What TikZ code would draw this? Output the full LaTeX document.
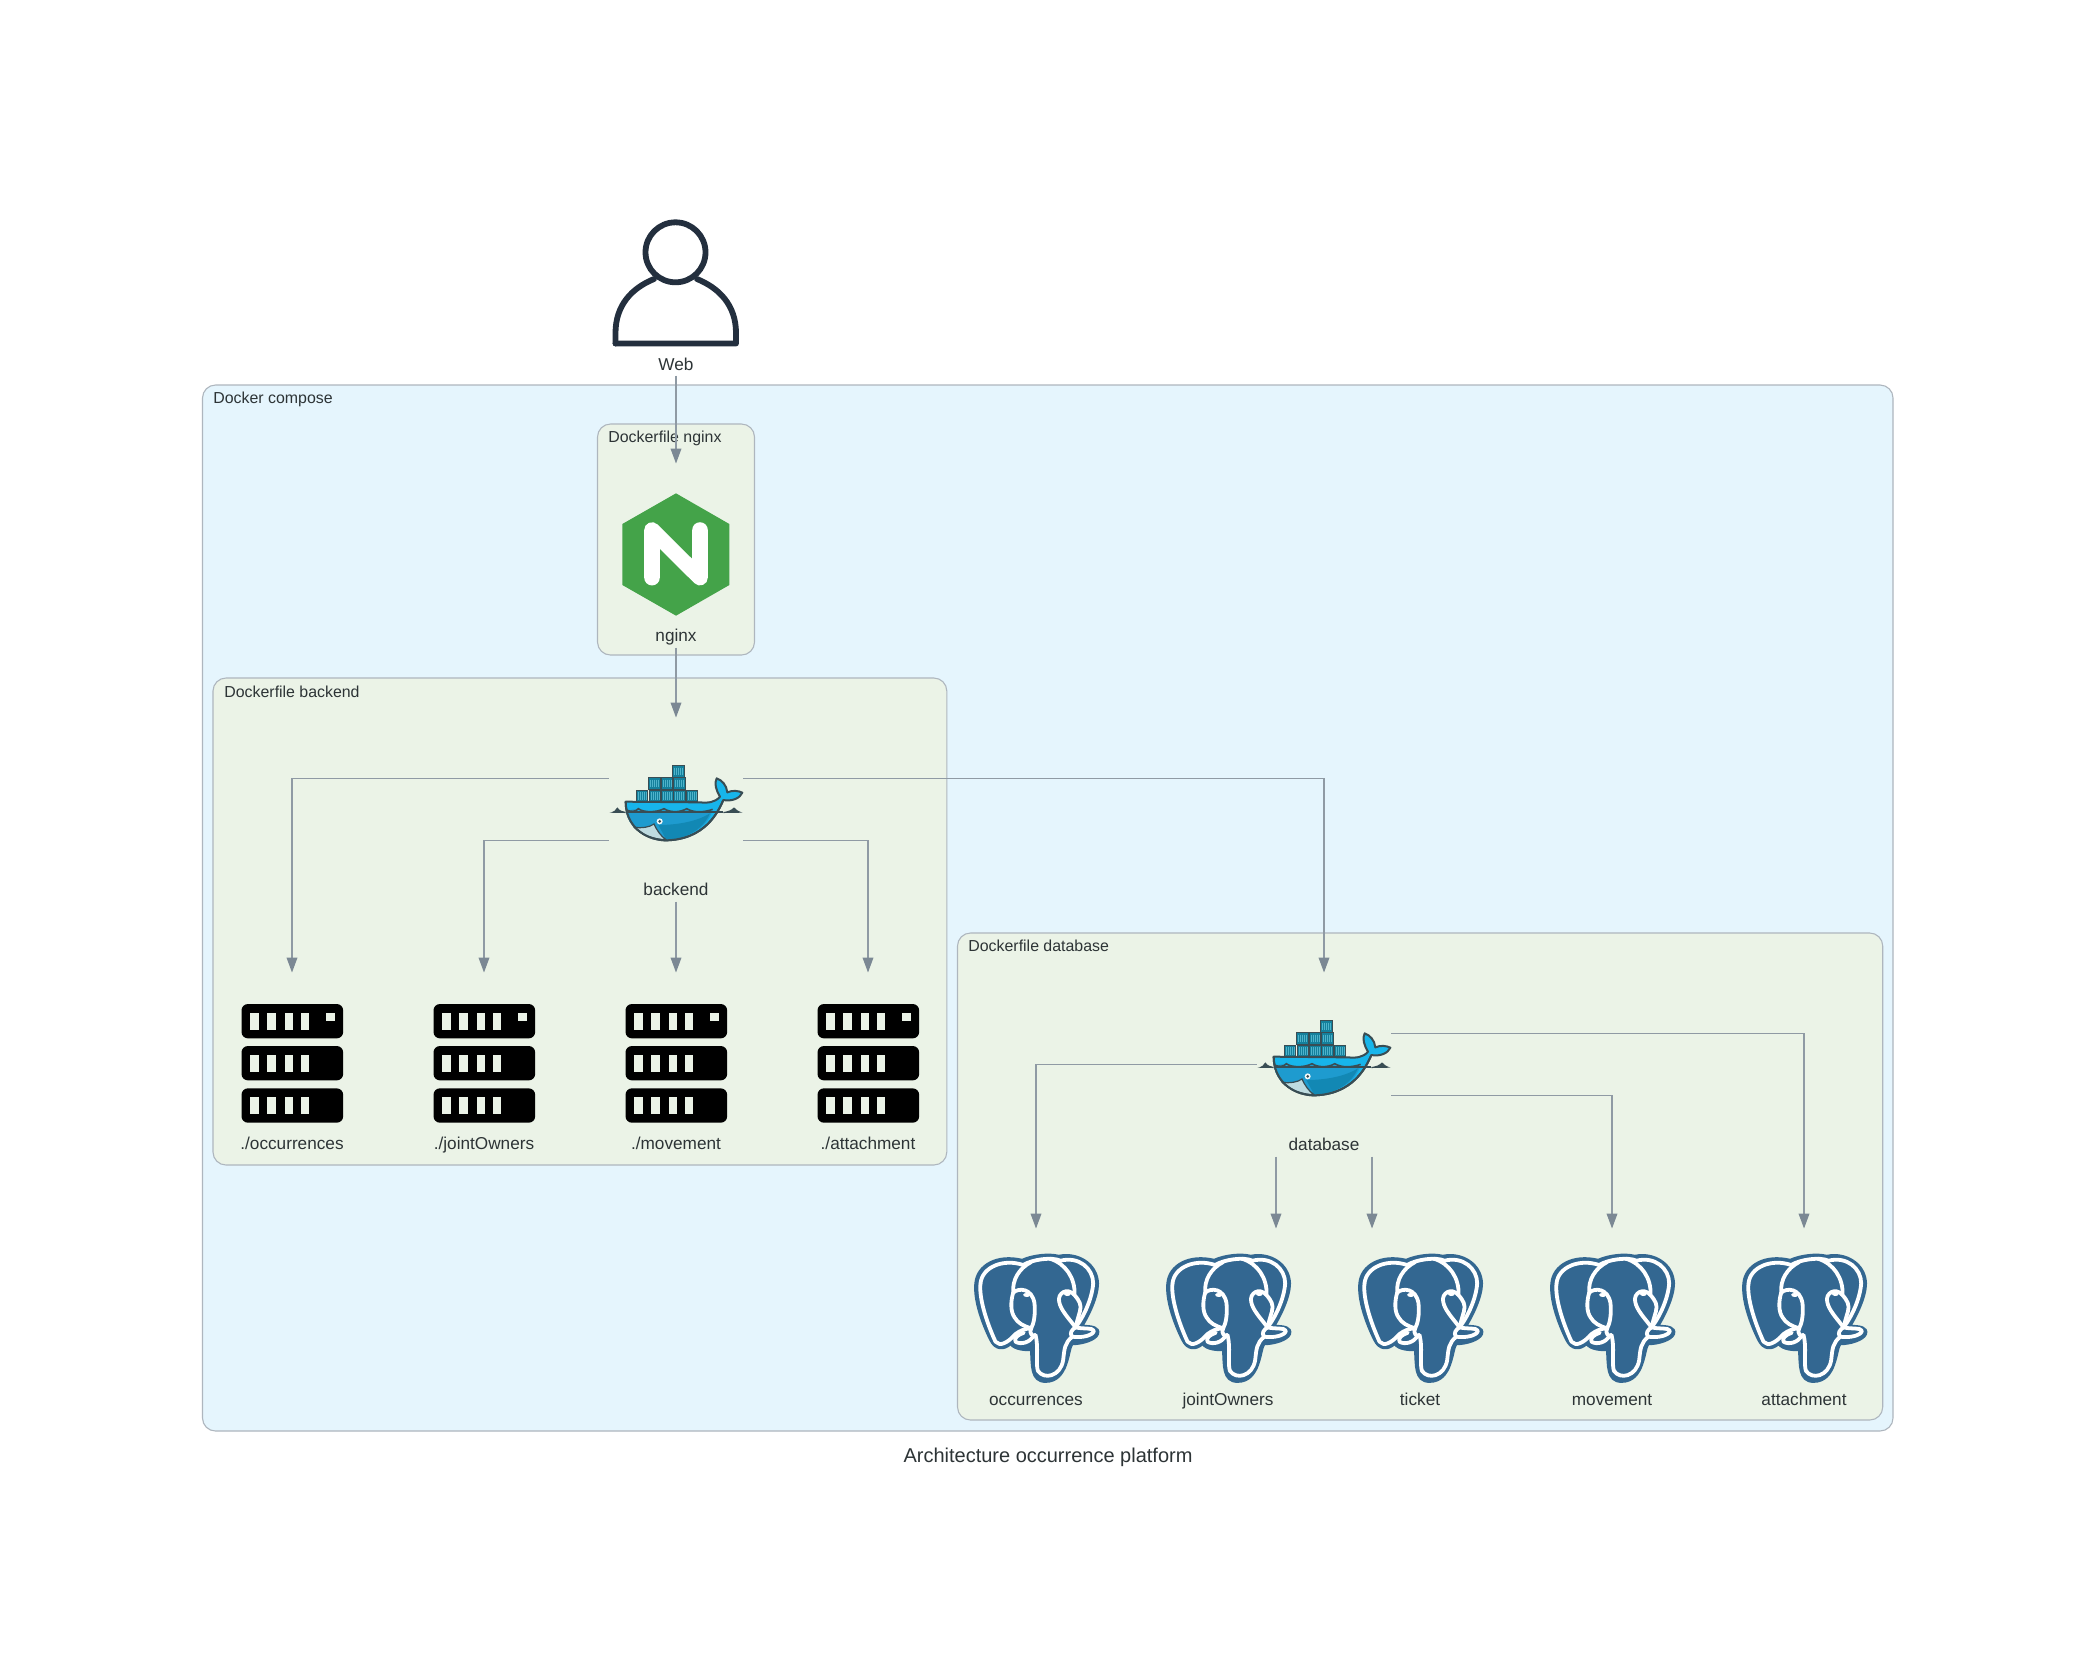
\documentclass[tikz,border=0pt]{standalone}
\usepackage{fontspec}
\setmainfont{Liberation Sans}
\usetikzlibrary{arrows.meta,calc}
\definecolor{txt}{HTML}{2D3436}
\definecolor{cpose}{HTML}{E5F5FD}
\definecolor{cfile}{HTML}{EBF3E7}
\definecolor{cedge}{HTML}{AEB6BE}
\definecolor{conn}{HTML}{7B8894}
\definecolor{awsdark}{HTML}{232F3E}
\definecolor{ngx}{HTML}{44A349}
\definecolor{pgb}{HTML}{336791}
\definecolor{wdark}{HTML}{394D54}
\definecolor{wteal}{HTML}{14809C}
\definecolor{wrib}{HTML}{4FB3CB}
\definecolor{wlight}{HTML}{17B5EB}
\definecolor{wmid}{HTML}{1E9BCF}
\definecolor{wdeep}{HTML}{1288B4}
\definecolor{wbelly}{HTML}{BFDBE0}
\newcommand{\crate}[3][37]{%
  \fill[wdark] (#2,#3) rectangle ++(#1,37);
  \fill[wteal] (#2+3,#3+3) rectangle ++(#1-6,31);
  \foreach \r in {0.2,0.36,0.52,0.68,0.84}
    \draw[wrib,line width=0.5pt] ($(#2,#3+7)+(\r*#1,0)$) -- ++(0,23);
}
\tikzset{
  compose/.style={draw=cedge,fill=cpose,line width=0.55pt,rounded corners=6.5pt},
  dfile/.style={draw=cedge,fill=cfile,line width=0.55pt,rounded corners=6.5pt},
  cluster/.style={anchor=base west,inner sep=0,text=txt,font=\fontsize{7.95pt}{9pt}\selectfont},
  lbl/.style={anchor=base,inner sep=0,text=txt,font=\fontsize{8.6pt}{10pt}\selectfont},
  ghost/.style={rectangle,inner sep=0,outer sep=0,minimum width=67.25pt,minimum height=92pt},
  wire/.style={draw=conn!85!white,line width=0.55pt,-{Triangle[length=7.5pt,width=5.4pt,color=conn]}},
  personicon/.pic={
    \draw[awsdark,line width=2.9pt,line join=round,line cap=round]
      (615.5-675.5,343.5-283) -- (615.5-675.5,333-283)
      .. controls (615.5-675.5,305-283) and (632-675.5,288-283) .. (654-675.5,279-283);
    \draw[awsdark,line width=2.9pt,line join=round,line cap=round]
      (615.5-675.5,343.5-283) -- (736-675.5,343.5-283) -- (736-675.5,333-283)
      .. controls (736-675.5,305-283) and (719-675.5,288-283) .. (697-675.5,279-283);
    \draw[awsdark,line width=2.9pt] (0,252.3-283) circle (30);
  },
  nginxicon/.pic={
    \fill[ngx] (258,70) -- (418,162) -- (418,345) -- (258,437) -- (97,345) -- (97,162) -- cycle;
    \draw[white,line width=7.8pt,line cap=round,line join=round]
      (186,323) -- (186,180) -- (330,323) -- (330,180);
  },
  servericon/.pic={
    \foreach \y in {42,168,295}{
      \fill[black,rounded corners=3.2pt] (33,\y) rectangle (338,\y+103);
      \foreach \a/\b in {58/85,110/136,162/188,212/236}
        \fill[cfile] (\a,\y+26) rectangle (\b,\y+78);
    }
    \fill[cfile] (287,70) rectangle (313,93);
  },
  whaleicon/.pic={
    % containers
    \crate{247}{46}
    \crate{175}{82}\crate{213}{82}\crate{250}{82}
    \crate{138}{119}\crate{177}{119}\crate{214}{119}\crate{250}{119}\crate{287}{119}
    % water line and small waves
    \fill[wdark] (58,188) .. controls (72,186) and (78,180) .. (82,172)
       .. controls (88,182) and (98,184) .. (107,186) -- (107,189) -- cycle;
    \fill[wdark] (400,186) .. controls (415,184) and (425,180) .. (432,172)
       .. controls (438,180) and (446,184) .. (458,188) -- (400,189) -- cycle;
    % body silhouette
    \path[fill=wlight,draw=wdark,line width=1pt,line join=round]
      (107,155) -- (330,157)
      .. controls (350,160) and (375,158) .. (390,140)
      .. controls (378,120) and (372,100) .. (380,85)
      .. controls (395,90) and (410,105) .. (412,127)
      .. controls (428,120) and (445,122) .. (457,128)
      .. controls (450,145) and (425,155) .. (400,150)
      .. controls (385,185) and (345,270) .. (225,271)
      .. controls (160,268) and (107,225) .. (107,155) -- cycle;
    % lower hull
    \fill[wmid] (109,186) .. controls (125,176) and (135,176) .. (145,182)
      .. controls (165,190) and (200,190) .. (222,180)
      .. controls (240,188) and (270,190) .. (290,180)
      .. controls (310,188) and (340,190) .. (368,182)
      .. controls (345,245) and (280,268) .. (225,269)
      .. controls (160,266) and (112,225) .. (109,186) -- cycle;
    \fill[wdeep] (205,225) .. controls (260,225) and (320,215) .. (360,190)
      .. controls (335,245) and (280,268) .. (228,269)
      .. controls (222,255) and (212,238) .. (205,225) -- cycle;
    % water waves on the band
    \draw[wdark,line width=0.8pt] (109,180)
      .. controls (125,186) and (135,186) .. (145,176)
      .. controls (160,188) and (200,188) .. (222,176)
      .. controls (240,188) and (270,188) .. (290,176)
      .. controls (310,188) and (340,188) .. (368,178);
    \draw[wdark,line width=0.8pt] (107,186) -- (400,186);
    % belly
    \path[fill=wbelly,draw=wdark,line width=0.6pt]
      (133,232) .. controls (155,235) and (178,232) .. (192,222)
      .. controls (200,240) and (212,258) .. (228,269)
      .. controls (190,268) and (155,255) .. (133,232) -- cycle;
    % eye
    \fill[white!85!wbelly] (209,214) circle (9);
    \fill[wdark] (209,214) circle (4.5);
    % outline again on top of the fills
    \path[draw=wdark,line width=1pt,line join=round]
      (107,155) .. controls (107,225) and (160,268) .. (225,271)
      .. controls (345,270) and (385,185) .. (400,150);
  },
  pgicon/.pic={
    \path[fill=pgb,draw=pgb,line width=1.2pt,line join=round]
      (45,130) .. controls (50,75) and (110,42) .. (185,60)
      .. controls (215,46) and (265,40) .. (295,48)
      .. controls (350,36) and (410,70) .. (412,130)
      .. controls (412,170) and (385,225) .. (365,258)
      .. controls (395,258) and (418,262) .. (412,282)
      .. controls (405,300) and (365,312) .. (335,312)
      .. controls (322,325) and (325,425) .. (255,425)
      .. controls (210,425) and (215,375) .. (212,330)
      .. controls (195,330) and (165,330) .. (150,312)
      .. controls (130,330) and (105,330) .. (90,300)
      .. controls (65,250) and (40,180) .. (45,130) -- cycle;
    \begin{scope}[draw=white,line width=1.9pt,line join=round,line cap=round]
      % outer white contour
      \draw (60,130) .. controls (65,80) and (130,55) .. (188,75)
        .. controls (215,58) and (275,50) .. (300,62)
        .. controls (355,48) and (398,85) .. (398,130)
        .. controls (395,175) and (370,230) .. (345,262);
      \draw (60,130) .. controls (55,170) and (75,240) .. (105,305)
        .. controls (118,320) and (140,310) .. (165,282)
        .. controls (178,272) and (195,265) .. (212,265);
      % trunk
      \draw (225,285) .. controls (235,320) and (225,370) .. (232,392)
        .. controls (250,420) and (300,410) .. (308,360)
        .. controls (312,325) and (312,310) .. (335,290)
        .. controls (325,280) and (335,268) .. (345,262);
      % head left with eye loop
      \draw (212,66) .. controls (175,85) and (155,120) .. (158,158)
        .. controls (175,142) and (215,145) .. (222,190)
        .. controls (225,225) and (220,250) .. (212,265)
        .. controls (205,285) and (218,290) .. (225,285);
      \draw (158,158) .. controls (150,185) and (150,215) .. (162,232)
        .. controls (172,250) and (190,258) .. (212,265);
      % head right with eye loop
      \draw (268,56) .. controls (315,70) and (345,115) .. (342,165)
        .. controls (355,180) and (365,195) .. (358,215)
        .. controls (352,235) and (348,250) .. (345,262);
      \draw (342,165) .. controls (320,140) and (290,160) .. (296,185)
        .. controls (300,210) and (325,235) .. (345,262);
      % tusks
      \draw (220,285) .. controls (210,308) and (180,315) .. (165,305)
        .. controls (160,295) and (170,285) .. (190,278);
      \draw (345,262) .. controls (370,268) and (395,262) .. (400,272)
        .. controls (400,285) and (365,295) .. (335,290);
    \end{scope}
    \fill[white,rotate around={-5:(198,165)}] (198,165) ellipse (10 and 6);
    \fill[white,rotate around={-5:(320,162)}] (320,162) ellipse (10 and 6);
  },
}
\begin{document}
\begin{tikzpicture}[x=0.5pt,y=-0.5pt]
\useasboundingbox[fill=white] (0,0) rectangle (2096,1667);
% clusters
\draw[compose] (202.5,385) rectangle (1893,1431);
\draw[dfile] (597.5,424) rectangle (754.5,655);
\draw[dfile] (213,678) rectangle (946.8,1165);
\draw[dfile] (957.5,933) rectangle (1882.7,1420);
\node[cluster] (lcompose) at (213,403.5) {Docker compose};
\node[cluster] (lnginx) at (608,442.5) {Dockerfile nginx};
\node[cluster] (lbackend) at (224,697.5) {Dockerfile backend};
\node[cluster] (ldatabase) at (968,951.5) {Dockerfile database};
% node frames
\node[ghost] (web) at (676,283.5) {};
\node[ghost] (nginx) at (676,555.5) {};
\node[ghost] (backend) at (676,809.5) {};
\node[ghost] (database) at (1324,1064.5) {};
\node[ghost] (s1) at (292,1064.5) {};
\node[ghost] (s2) at (484,1064.5) {};
\node[ghost] (s3) at (676,1064.5) {};
\node[ghost] (s4) at (868,1064.5) {};
\node[ghost] (p1) at (1036,1320.5) {};
\node[ghost] (p2) at (1228,1320.5) {};
\node[ghost] (p3) at (1420,1320.5) {};
\node[ghost] (p4) at (1612,1320.5) {};
\node[ghost] (p5) at (1804,1320.5) {};
% icons
\pic at (675.5,283) {personicon};
\pic[scale=1/3] at (590,470) {nginxicon};
\pic[scale=1/3] at (590,750) {whaleicon};
\pic[scale=1/3] at (1238,1005) {whaleicon};
\foreach \i in {0,1,2,3}{\pic[scale=1/3] at (230.5+192*\i,990) {servericon};}
\foreach \i in {0,1,2,3,4}{\pic[scale=1/3] at (960.5+192*\i,1240) {pgicon};}
% labels
\node[lbl] (tweb) at (676,370) {Web};
\node[lbl] (tnginx) at (676,641.7) {nginx};
\node[lbl] (tbackend) at (676,895) {backend};
\node[lbl] (tdatabase) at (1324,1150) {database};
\node[lbl] (ts1) at (292,1149.5) {./occurrences};
\node[lbl] (ts2) at (484,1149.5) {./jointOwners};
\node[lbl] (ts3) at (676,1149.5) {./movement};
\node[lbl] (ts4) at (868,1149.5) {./attachment};
\node[lbl] (tp1) at (1036,1405) {occurrences};
\node[lbl] (tp2) at (1228,1405) {jointOwners};
\node[lbl] (tp3) at (1420,1405) {ticket};
\node[lbl] (tp4) at (1612,1405) {movement};
\node[lbl] (tp5) at (1804,1405) {attachment};
\node[anchor=base,inner sep=0,text=txt,font=\fontsize{10pt}{12pt}\selectfont] (title) at (1048,1462.5) {Architecture occurrence platform};
% connectors
\draw[wire] (web.south) -- (nginx.north);
\draw[wire] (nginx.south) -- (backend.north);
\draw[wire] ([yshift=15.5pt]backend.west) -| (s1.north);
\draw[wire] ([yshift=-15.5pt]backend.west) -| (s2.north);
\draw[wire] (backend.south) -- (s3.north);
\draw[wire] ([yshift=-15.5pt]backend.east) -| (s4.north);
\draw[wire] ([yshift=15.5pt]backend.east) -| (database.north);
\draw[wire] (database.west) -| (p1.north);
\draw[wire] ([xshift=-24pt]database.south) -- ([xshift=24pt]p2.north);
\draw[wire] ([xshift=24pt]database.south) -- ([xshift=-24pt]p3.north);
\draw[wire] ([yshift=-15.5pt]database.east) -| (p4.north);
\draw[wire] ([yshift=15.5pt]database.east) -| (p5.north);
\end{tikzpicture}
\end{document}
